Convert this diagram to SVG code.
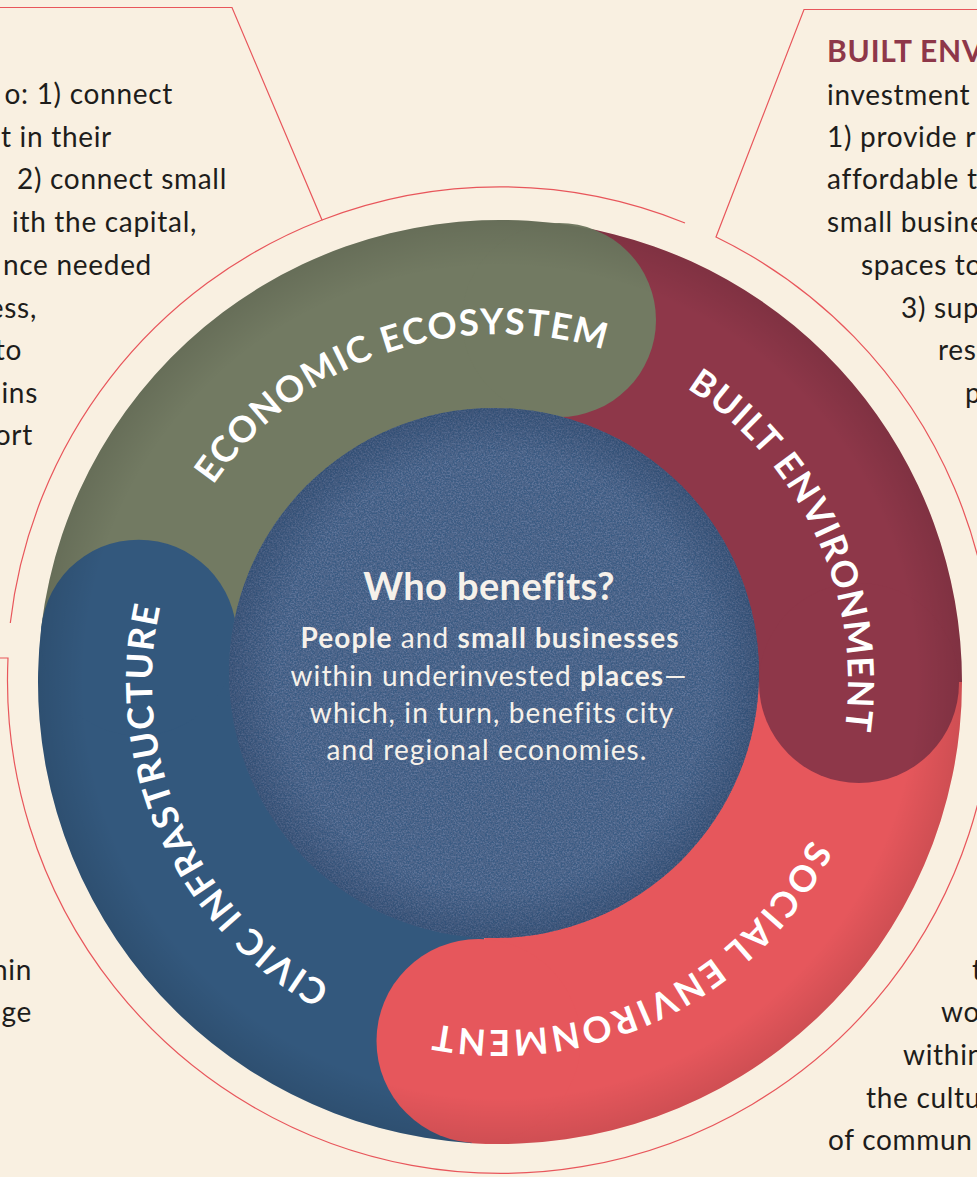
<svg xmlns="http://www.w3.org/2000/svg" xmlns:xlink="http://www.w3.org/1999/xlink" width="977" height="1177" viewBox="0 0 977 1177">
<style>
.body{font-family:Lato,'Liberation Sans',sans-serif;font-size:28px;fill:#1e1d1b;letter-spacing:0.7px;}
.hdr{font-family:Lato,'Liberation Sans',sans-serif;font-size:30px;font-weight:700;fill:#8e3749;letter-spacing:0.8px;}
.ring{font-family:Lato,'Liberation Sans',sans-serif;font-size:36px;font-weight:700;fill:#ffffff;letter-spacing:1.5px;}
.ctr{font-family:Lato,'Liberation Sans',sans-serif;font-size:28px;fill:#f6f1ea;text-anchor:middle;letter-spacing:1.1px;}
.ctrh{font-family:Lato,'Liberation Sans',sans-serif;font-size:38px;font-weight:700;fill:#f6f1ea;text-anchor:middle;letter-spacing:0.4px;}
.b{font-weight:700;}
.line{fill:none;stroke:#e8565b;stroke-width:1.2;}
</style>
<defs>
<radialGradient id="rimShade" cx="50%" cy="50%" r="50%">
<stop offset="0.9" stop-color="#000" stop-opacity="0"/>
<stop offset="1" stop-color="#000" stop-opacity="0.1"/>
</radialGradient>
<radialGradient id="innerShade" cx="50%" cy="50%" r="50%">
<stop offset="0.82" stop-color="#1c3152" stop-opacity="0"/>
<stop offset="1" stop-color="#1c3152" stop-opacity="0.3"/>
</radialGradient>
<filter id="grain" x="0%" y="0%" width="100%" height="100%" color-interpolation-filters="sRGB">
<feTurbulence type="fractalNoise" baseFrequency="0.62" numOctaves="3" seed="7" result="t"/>
<feColorMatrix in="t" type="matrix" values="0 0 0 0 0.21  0 0 0 0 0.35  0 0 0 0 0.51  8 0 0 0 -4.15" result="dark"/>
<feColorMatrix in="t" type="matrix" values="0 0 0 0 0.38  0 0 0 0 0.47  0 0 0 0 0.62  -8 0 0 0 3.55" result="light"/>
<feMerge result="m"><feMergeNode in="dark"/><feMergeNode in="light"/></feMerge>
<feComposite in="m" in2="SourceGraphic" operator="in"/>
</filter>
<path id="p-econ" d="M162.34,766.19 A348,348 0 0 1 817.91,540.46"/>
<path id="p-built" d="M382.69,354.37 A348,348 0 0 1 672.42,984.28"/>
<path id="p-social" d="M820.34,546.03 A348,348 0 0 1 208.14,871.53"/>
<path id="p-civic" d="M613.87,1010.84 A348,348 0 0 1 330.75,377.93"/>
</defs>

<rect x="0" y="0" width="977" height="1177" fill="#f9f0e1"/>

<g id="callout-lines">
<path class="line" d="M0,7.5 H232 L322,220 A493,493 0 0 0 10.3,623"/>
<path class="line" d="M322,220 A493,493 0 0 1 685,223"/>
<path class="line" d="M977,9.5 H804 L716,237 A493,493 0 1 1 8,658 H0"/>
</g>

<g id="ring">
<path id="band-civic" d="M471.79,1143.14 A462,462 0 0 1 41.44,625.70 L261.79,652.75 A240,240 0 0 0 485.35,921.55 Z" fill="#33587d"/>
<path id="band-economic" d="M41.44,625.70 A462,462 0 0 1 574.66,226.07 L538.78,445.15 A240,240 0 0 0 261.79,652.75 Z" fill="#727a62"/>
<path id="band-built" d="M574.66,226.07 A462,462 0 0 1 962,682 L740,682 A240,240 0 0 0 538.78,445.15 Z" fill="#8e3749"/>
<path id="band-social" d="M962,682 A462,462 0 0 1 471.79,1143.14 L485.35,921.55 A240,240 0 0 0 740,682 Z" fill="#e6575c"/>
<circle id="cap-civic" cx="138.71" cy="637.64" r="98" fill="#33587d"/>
<circle id="cap-economic" cx="559" cy="320" r="97" fill="#727a62"/>
<circle id="cap-built" cx="859" cy="683" r="100" fill="#8e3749"/>
<circle id="cap-social" cx="478.5" cy="1041" r="102" fill="#e6575c"/>
<circle cx="500" cy="682" r="462" fill="url(#rimShade)"/>
</g>

<g id="center">
<circle cx="494" cy="673" r="265" fill="#4d658a"/>
<circle cx="494" cy="673" r="265" fill="#000" filter="url(#grain)" opacity="0.75"/>
<circle cx="494" cy="673" r="265" fill="url(#innerShade)"/>
<text class="ctrh" x="489" y="600">Who benefits?</text>
<text class="ctr" x="490" y="648"><tspan class="b">People</tspan> and <tspan class="b">small businesses</tspan></text>
<text class="ctr" x="489" y="686">within underinvested <tspan class="b">places</tspan>—</text>
<text class="ctr" x="492" y="723">which, in turn, benefits city</text>
<text class="ctr" x="487" y="760">and regional economies.</text>
</g>

<g id="ring-labels">
<text class="ring"><textPath xlink:href="#p-econ" href="#p-econ" startOffset="50%" text-anchor="middle">ECONOMIC ECOSYSTEM</textPath></text>
<text class="ring"><textPath xlink:href="#p-built" href="#p-built" startOffset="50%" text-anchor="middle">BUILT ENVIRONMENT</textPath></text>
<text class="ring" style="letter-spacing:2.7px"><textPath xlink:href="#p-social" href="#p-social" startOffset="51.2%" text-anchor="middle">SOCIAL ENVIRONMENT</textPath></text>
<text class="ring"><textPath xlink:href="#p-civic" href="#p-civic" startOffset="50%" text-anchor="middle">CIVIC INFRASTRUCTURE</textPath></text>
</g>

<g id="callout-economic" text-anchor="end">
<text class="body" x="173" y="104">o: 1) connect</text>
<text class="body" x="112" y="147">t in their</text>
<text class="body" x="227" y="189">2) connect small</text>
<text class="body" x="197" y="232">ith the capital,</text>
<text class="body" x="152" y="275">nce needed</text>
<text class="body" x="37" y="318">ess,</text>
<text class="body" x="22" y="360">to</text>
<text class="body" x="38" y="403">ins</text>
<text class="body" x="33" y="445">ort</text>
</g>

<g id="callout-civic" text-anchor="end">
<text class="body" x="32" y="980">hin</text>
<text class="body" x="32" y="1022">ge</text>
</g>

<g id="callout-built">
<text class="hdr" x="827" y="62">BUILT ENV</text>
<text class="body" x="827" y="105">investment</text>
<text class="body" x="827" y="147">1) provide r</text>
<text class="body" x="827" y="189">affordable t</text>
<text class="body" x="827" y="232">small busine</text>
<text class="body" x="861" y="275">spaces to</text>
<text class="body" x="901" y="318">3) sup</text>
<text class="body" x="938" y="360">res</text>
<text class="body" x="965" y="403">p</text>
</g>

<g id="callout-social">
<text class="body" x="972" y="980">t</text>
<text class="body" x="941" y="1022">wo</text>
<text class="body" x="903" y="1065">within</text>
<text class="body" x="866" y="1108">the cultu</text>
<text class="body" x="828" y="1150">of commun</text>
</g>
</svg>
